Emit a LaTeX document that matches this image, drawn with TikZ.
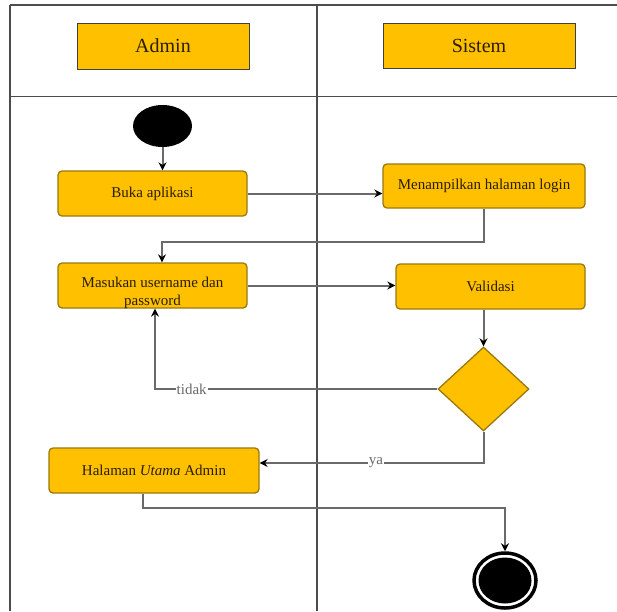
\documentclass[tikz,border=0pt]{standalone}
\usepackage{fontspec}
\setmainfont{Liberation Serif}
\usetikzlibrary{shapes.geometric,arrows.meta}
\definecolor{ylw}{HTML}{FFC000}
\definecolor{brd}{HTML}{9A7A10}
\definecolor{ln}{HTML}{6A6A6A}
\definecolor{txt}{HTML}{2B1D00}
\begin{document}
\begin{tikzpicture}[x=1pt,y=-1pt,
 hdr/.style={draw=black!75, fill=ylw, line width=1pt, inner sep=0pt, font=\fontsize{20}{22}\selectfont, text=txt},
 act/.style={draw=brd, fill=ylw, line width=1.3pt, rounded corners=4pt, inner sep=0pt, font=\fontsize{15}{18}\selectfont, text=txt},
 flow/.style={draw=ln, line width=2pt},
 arr/.style={flow, -{Stealth[length=8pt,width=8pt,color=black]}},
 lbl/.style={fill=white, inner sep=1pt, text=ln, font=\fontsize{15}{17}\selectfont},
 lane/.style={draw=black!70, line width=1.3pt}]
\useasboundingbox (0,0) rectangle (617,611);
% swimlane frame
\draw[lane] (10,5) -- (617,5);
\draw[lane] (10,5) -- (10,611);
\draw[lane] (317,5) -- (317,611);
\draw[lane] (10,96.5) -- (617,96.5);
% headers
\node[hdr, minimum width=172pt, minimum height=46pt] (admin) at (163,46) {Admin};
\node[hdr, minimum width=192pt, minimum height=45pt] (sistem) at (479,45.5) {Sistem};
% start
\node[ellipse, fill=black, minimum width=59pt, minimum height=42pt, inner sep=0pt] (start) at (162.5,126) {};
% activities
\node[act, minimum width=189pt, minimum height=45pt] (buka) at (152.5,193.5) {Buka aplikasi};
\node[act, minimum width=202pt, minimum height=44pt] (tampil) at (484,186) {Menampilkan halaman login};
\node[act, minimum width=189pt, minimum height=45pt] (masuk) at (152.5,285.5)
  {\raisebox{-11pt}[0pt][0pt]{\begin{tabular}{@{}c@{}}Masukan username dan\\ password\end{tabular}}};
\node[act, minimum width=189pt, minimum height=45pt] (valid) at (490.5,286.5) {Validasi};
\node[diamond, draw=brd, fill=ylw, line width=1.3pt, inner sep=0pt, minimum width=91pt, minimum height=84pt] (dec) at (483.5,389) {};
\node[act, minimum width=210pt, minimum height=45pt] (hal) at (154,470.5) {Halaman \textit{Utama} Admin};
% end
\node[ellipse, draw=black, line width=3.5pt, fill=white, minimum width=62pt, minimum height=55pt, inner sep=0pt] (endo) at (505,580.5) {};
\node[ellipse, fill=black, minimum width=53pt, minimum height=46pt, inner sep=0pt] (endi) at (505,580.5) {};
% helper coordinates
\coordinate (t1) at (162,242);
\coordinate (c1) at (155,389);
\coordinate (c2) at (483.5,463);
\coordinate (c3) at (143,508);
\coordinate (c4) at (505,508);
% connectors
\draw[arr] (start.south) -- (start.south |- buka.north);
\draw[arr] (buka.east) -- (buka.east -| tampil.west);
\draw[arr] (tampil.south) |- (t1) -- (t1 |- masuk.north);
\draw[arr] (masuk.east) -- (masuk.east -| valid.west);
\draw[arr] (valid.south -| dec.north) -- (dec.north);
\draw[arr] (dec.west) -- node[lbl, pos=0.87] {tidak} (c1) -- (c1 |- masuk.south);
\draw[arr] (dec.south) -- (c2) -- node[lbl, pos=0.48] {ya} (c2 -| hal.east);
\draw[arr] (hal.south -| c3) -- (c3) -- (c4) -- (endo.north);
\end{tikzpicture}
\end{document}
